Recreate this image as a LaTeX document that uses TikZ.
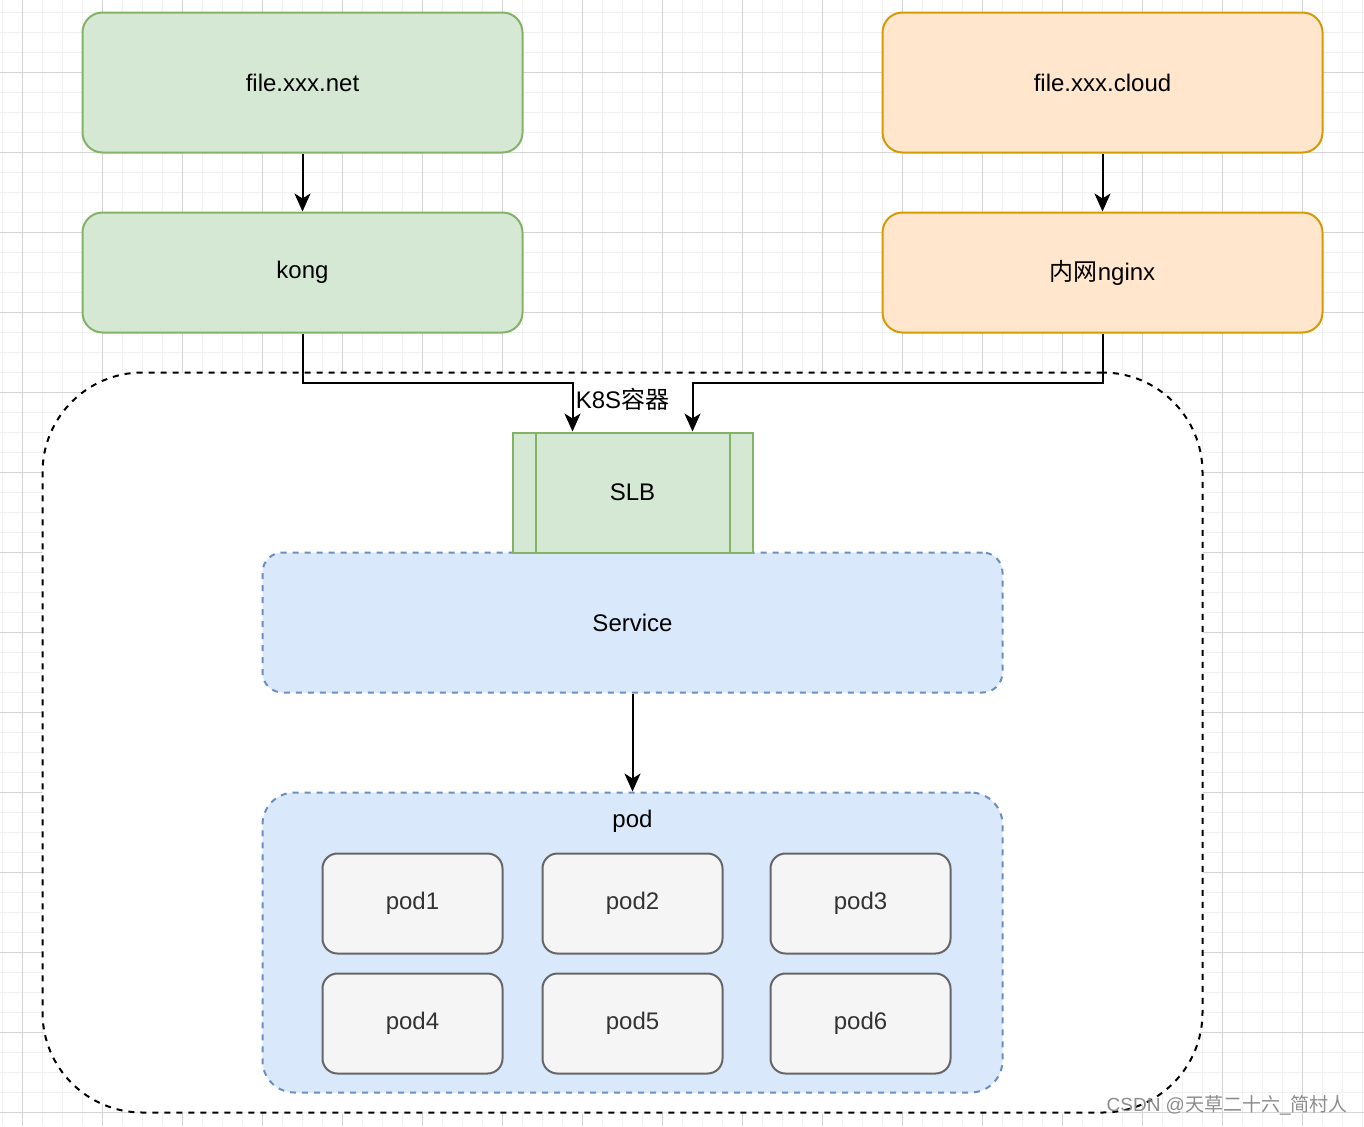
\documentclass[tikz,border=0pt]{standalone}
\usepackage{fontspec}
\setmainfont{Liberation Sans}
\newfontfamily\cjk{Noto Sans CJK SC}
\usepackage{tikz}
\usetikzlibrary{arrows.meta}
\definecolor{greenfill}{HTML}{D5E8D4}
\definecolor{greenline}{HTML}{82B366}
\definecolor{orangefill}{HTML}{FFE6CC}
\definecolor{orangeline}{HTML}{D79B00}
\definecolor{bluefill}{HTML}{DAE8FC}
\definecolor{blueline}{HTML}{6C8EBF}
\definecolor{podfill}{HTML}{F5F5F5}
\definecolor{podline}{HTML}{666666}
\definecolor{podtext}{HTML}{333333}
\definecolor{gridminor}{HTML}{F0F0F0}
\definecolor{gridmajor}{HTML}{D4D4D4}

\begin{document}
\begin{tikzpicture}[x=0.5pt,y=-0.5pt,
	box/.style={draw,line width=1pt,inner sep=0pt,font=\fontsize{12}{14}\selectfont},
	netbox/.style={box,draw=greenline,fill=greenfill,rounded corners=10pt,minimum width=220pt},
	cloudbox/.style={box,draw=orangeline,fill=orangefill,rounded corners=10pt,minimum width=220pt},
	slbbox/.style={box,draw=greenline,fill=greenfill,minimum width=120pt,minimum height=60pt},
	servicebox/.style={box,draw=blueline,fill=bluefill,dash pattern=on 3pt off 3pt,rounded corners=10pt,minimum width=370pt,minimum height=70pt},
	groupbox/.style={box,draw=blueline,fill=bluefill,dash pattern=on 3pt off 3pt,rounded corners=16pt,minimum width=370pt,minimum height=150pt},
	podbox/.style={box,draw=podline,fill=podfill,text=podtext,rounded corners=7.5pt,minimum width=90pt,minimum height=50pt},
	k8sbox/.style={box,draw=black,fill=white,dash pattern=on 3pt off 3pt,rounded corners=50pt,minimum width=580pt,minimum height=370pt},
	link/.style={-{Stealth[length=9pt,width=8pt,inset=2.5pt]},line width=1pt}
]
	\useasboundingbox (0,0) rectangle (1364,1126);
	\fill[white] (0,0) rectangle (1364,1126);
	\foreach \gx in {2.5,22.5,...,1364} \draw[gridminor,line width=0.6pt] (\gx,0) -- (\gx,1126);
	\foreach \gy in {12.5,32.5,...,1126} \draw[gridminor,line width=0.6pt] (0,\gy) -- (1364,\gy);
	\foreach \gx in {22.5,102.5,...,1364} \draw[gridmajor,line width=0.5pt] (\gx,0) -- (\gx,1126);
	\foreach \gy in {72.5,152.5,...,1126} \draw[gridmajor,line width=0.5pt] (0,\gy) -- (1364,\gy);

	\node[k8sbox] (k8s) at (622.5,742.5) {};
	\node[font=\fontsize{12}{14}\selectfont] (k8stitle) at ([yshift=-14pt]k8s.north) {K8S{\cjk 容器}};

	\node[servicebox] (svc) at (632.5,622.5) {Service};
	\node[slbbox] (slb) at (632.5,492.5) {SLB};
	\draw[greenline,line width=1pt] ([xshift=12pt]slb.north west) -- ([xshift=12pt]slb.south west);
	\draw[greenline,line width=1pt] ([xshift=-12pt]slb.north east) -- ([xshift=-12pt]slb.south east);

	\node[groupbox] (podgrp) at (632.5,942.5) {};
	\node[font=\fontsize{12}{14}\selectfont] (podtitle) at ([yshift=-15pt]podgrp.north) {pod};
	\foreach \name/\px/\py in {pod1/412.5/903.5,pod2/632.5/903.5,pod3/860.5/903.5,pod4/412.5/1023.5,pod5/632.5/1023.5,pod6/860.5/1023.5}
		\node[podbox] (\name) at (\px,\py) {\name};

	\node[netbox,minimum height=70pt] (net) at (302.5,82.5) {file.xxx.net};
	\node[netbox,minimum height=60pt] (kong) at (302.5,272.5) {kong};
	\node[cloudbox,minimum height=70pt] (cloud) at (1102.5,82.5) {file.xxx.cloud};
	\node[cloudbox,minimum height=60pt] (nginx) at (1102.5,272.5) {{\cjk 内网}nginx};

	\draw[link] (net) -- (kong);
	\draw[link] (cloud) -- (nginx);
	\draw[link] (kong.south) -- ++(0,49) -| ([xshift=-30pt]slb.north);
	\draw[link] (nginx.south) -- ++(0,49) -| ([xshift=30pt]slb.north);
	\draw[link] (svc) -- (podgrp);

	\node[anchor=east,inner sep=0pt,text=black!45,font=\fontsize{9.5}{11}\selectfont] (mark) at (1348,1105) {CSDN @{\cjk 天草二十六}\_{\cjk 简村人}};
\end{tikzpicture}
\end{document}
